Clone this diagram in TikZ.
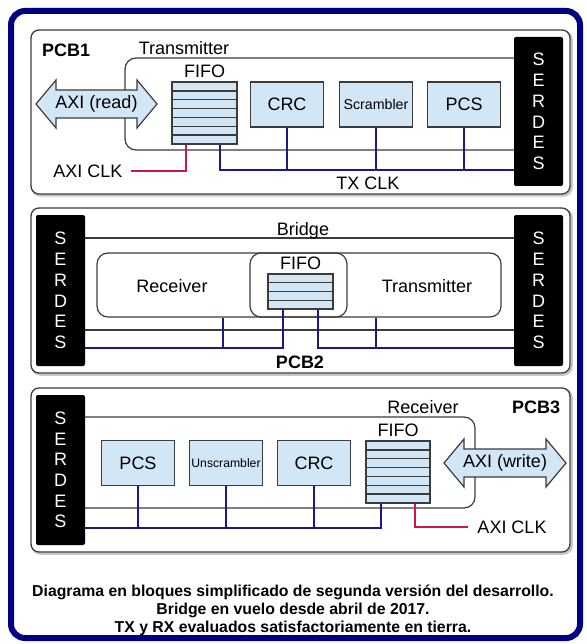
\documentclass[tikz,border=0pt]{standalone}
\usepackage{fontspec}
\setmainfont{Liberation Sans}
\usetikzlibrary{calc}

\definecolor{boxblue}{RGB}{210,230,245}
\definecolor{clkblue}{RGB}{25,25,140}
\definecolor{clkred}{RGB}{205,20,80}
\definecolor{framenavy}{RGB}{0,0,128}
\definecolor{edgegray}{RGB}{60,60,60}

\tikzset{
  txt/.style={font=\fontsize{18}{20}\selectfont, inner sep=0pt},
  pcb/.style={txt, font=\fontsize{18}{20}\selectfont\bfseries},
  blk/.style={txt, draw=edgegray, line width=1.2pt, fill=boxblue, minimum width=73pt, minimum height=45pt},
  serdes/.style={fill=black, text=white, rounded corners=2pt, minimum width=49pt, minimum height=150pt,
    inner sep=0pt, align=center, font=\fontsize{18}{20.7}\selectfont},
  fifo/.style={draw=edgegray, line width=1.2pt, fill=boxblue, path picture={
      \foreach \k in {1,...,#1}
        \draw[edgegray, line width=1.4pt]
          ($(path picture bounding box.north west)!\k/#1!(path picture bounding box.south west)$) --
          ($(path picture bounding box.north east)!\k/#1!(path picture bounding box.south east)$);}},
  zone/.style={draw=edgegray, line width=1.2pt, rounded corners=11pt},
  bus/.style={draw=edgegray, line width=1.2pt},
  panel/.style={draw=edgegray, line width=1.3pt, rounded corners=8pt, fill=white},
  panelshadow/.style={draw=gray!45, line width=2.5pt, rounded corners=8pt},
  axibody/.style={draw=edgegray, line width=1.2pt, fill=boxblue},
  clk/.style={draw=clkblue, line width=1.8pt},
  axiclk/.style={draw=clkred, line width=1.8pt}
}

\begin{document}
\begin{tikzpicture}[x=1pt,y=-1pt]
  \useasboundingbox (0,0) rectangle (586,644);
  \fill[white] (0,0) rectangle (586,644);

  % outer frame
  \draw[framenavy, line width=6pt, rounded corners=14pt] (11,11) rectangle (580,638);

  % ---------------- PCB1 ----------------
  \draw[panelshadow] (32.5,31.5) rectangle (571.5,195.5);
  \draw[panel] (31,30) rectangle (570,194);
  \node[pcb, anchor=west] (pcb1) at (42,50) {PCB1};

  \draw[zone] (530,58) -- (125,58) -- (125,150) -- (530,150);
  \node[txt] (tx1lbl) at (184,48) {Transmitter};
  \node[serdes, minimum height=149pt] (ser1) at (538.5,111.5) {S\\E\\R\\D\\E\\S};

  \draw[axibody] (36,104) -- (56,80) -- (56,90) -- (137,90) -- (137,80) -- (157,104)
    -- (137,128) -- (137,118) -- (56,118) -- (56,128) -- cycle;
  \node[txt] (axi1) at (96.5,104) {AXI (read)};

  \node[fifo=7, minimum width=65pt, minimum height=62pt] (fifo1) at (204.5,113) {};
  \node[txt, anchor=south] (fifo1lbl) at ([yshift=3.5pt]fifo1.north) {FIFO};
  \node[blk] (crc1) at (287,104.5) {CRC};
  \node[blk, font=\fontsize{14.2}{16}\selectfont] (scr1) at (376,104.5) {Scrambler};
  \node[blk] (pcs1) at (464,104.5) {PCS};

  % clocks
  \coordinate (tx1) at (0,170);
  \draw[clk] ([xshift=15.5pt]fifo1.south) |- (ser1.west |- tx1);
  \foreach \b in {crc1,scr1,pcs1}
    \draw[clk] (\b.south) -- (\b.south |- tx1);
  \node[txt] (txclk1) at (368,183) {TX CLK};
  \node[txt, inner xsep=8pt] (axiclk1) at (88,171) {AXI CLK};
  \draw[axiclk] (axiclk1.east) -| ([xshift=-18.5pt]fifo1.south);

  % ---------------- PCB2 ----------------
  \draw[panelshadow] (32.5,209.5) rectangle (571.5,374.5);
  \draw[panel] (31,208) rectangle (570,373);

  \draw[bus] (70,238) rectangle (530,330);
  \node[txt] (bridge) at (303,231) {Bridge};
  \node[zone, minimum width=404pt, minimum height=64pt] (rxtx2) at (299,285) {};
  \node[zone, minimum width=97pt, minimum height=64pt] (fifozone2) at (298.5,285) {};
  \node[txt] (rx2) at (172,286) {Receiver};
  \node[txt] (tx2) at (427,286) {Transmitter};
  \node[fifo=4, minimum width=65pt, minimum height=35pt] (fifo2) at (300.5,291.5) {};
  \node[txt, anchor=south] (fifo2lbl) at ([yshift=3.5pt]fifo2.north) {FIFO};

  \node[serdes, minimum height=151pt] (ser2l) at (60.5,290.5) {S\\E\\R\\D\\E\\S};
  \node[serdes, minimum height=151pt] (ser2r) at (538.5,290.5) {S\\E\\R\\D\\E\\S};

  \coordinate (bus2) at (0,348);
  \draw[clk] (ser2l.east |- bus2) -| ([xshift=-17.5pt]fifo2.south);
  \draw[clk] ([xshift=17.5pt]fifo2.south) |- (ser2r.west |- bus2);
  \draw[clk] ([xshift=-76pt]rxtx2.south) -- ([xshift=-76pt]rxtx2.south |- bus2);
  \draw[clk] ([xshift=77pt]rxtx2.south) -- ([xshift=77pt]rxtx2.south |- bus2);
  \node[pcb] (pcb2) at (300,362) {PCB2};

  % ---------------- PCB3 ----------------
  \draw[panelshadow] (32.5,389.5) rectangle (571.5,553.5);
  \draw[panel] (31,388) rectangle (570,552);

  \draw[zone] (50,417) -- (475,417) -- (475,508) -- (50,508);
  \node[txt] (rx3lbl) at (423,407) {Receiver};
  \node[pcb] (pcb3) at (536,407) {PCB3};
  \node[serdes] (ser3) at (60.5,470) {S\\E\\R\\D\\E\\S};

  \node[blk] (pcs3) at (138,463) {PCS};
  \node[blk, font=\fontsize{12.2}{14}\selectfont] (uns3) at (226,463) {Unscrambler};
  \node[blk] (crc3) at (314,463) {CRC};
  \node[fifo=7, minimum width=64pt, minimum height=62pt] (fifo3) at (398,472) {};
  \node[txt, anchor=south] (fifo3lbl) at ([yshift=3.5pt]fifo3.north) {FIFO};

  \draw[axibody] (444,463) -- (464,439) -- (464,449) -- (546,449) -- (546,439) -- (566,463)
    -- (546,487) -- (546,477) -- (464,477) -- (464,487) -- cycle;
  \node[txt] (axi3) at (505,463) {AXI (write)};

  % clocks
  \coordinate (bus3) at (0,528);
  \draw[clk] (ser3.east |- bus3) -| ([xshift=-17pt]fifo3.south);
  \foreach \b in {pcs3,uns3,crc3}
    \draw[clk] (\b.south) -- (\b.south |- bus3);
  \node[txt, inner xsep=9pt] (axiclk3) at (512,527) {AXI CLK};
  \draw[axiclk] ([xshift=17pt]fifo3.south) |- (axiclk3.west);

  % caption
  \node[txt, font=\fontsize{15.8}{18}\selectfont\bfseries, align=center] (caption) at (293,610)
    {Diagrama en bloques simplificado de segunda versión del desarrollo.\\
     Bridge en vuelo desde abril de 2017.\\
     TX y RX evaluados satisfactoriamente en tierra.};
\end{tikzpicture}
\end{document}
